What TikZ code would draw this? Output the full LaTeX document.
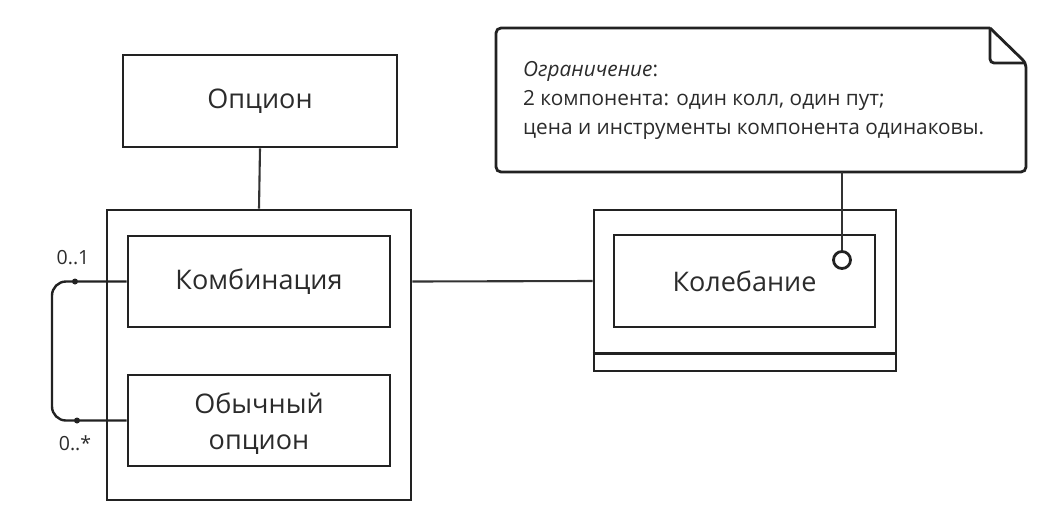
\documentclass[tikz,border=0pt]{standalone}
\usepackage{fontspec}
\setmainfont{Open Sans}
\usetikzlibrary{positioning,calc}
\definecolor{ink}{HTML}{222222}
\definecolor{wire}{HTML}{333333}
\definecolor{txt}{HTML}{2B2B2B}
\tikzset{
  box/.style={draw=ink,line width=2.8pt},
  link/.style={draw=wire,line width=2.1pt},
  big/.style={font=\fontsize{27}{36}\selectfont}
}

\begin{document}
\begin{tikzpicture}[x=1pt,y=-1pt,text=txt]
\useasboundingbox (0,0) rectangle (1052,531);
\node[box,big,minimum width=274pt,minimum height=92pt] (opt) at (260,101) {Опцион};
\node[box,minimum width=304pt,minimum height=290pt] (grp) at (259,355) {};
\node[box,big,minimum width=262pt,minimum height=91pt] (comb) at (259,281.5) {Комбинация};
\node[box,minimum width=262pt,minimum height=91pt] (plain) at (259,420.5) {};
\node[big,align=center] (plaintxt) at (259,424) {Обычный\\опцион};
\node[box,minimum width=302pt,minimum height=161pt] (osc) at (745,290.5) {};
\node[box,big,minimum width=261pt,minimum height=92pt] (inner) at (744.5,281) {Колебание};
\draw[box] ($(osc.south west)+(0,-19)$) -- ($(osc.south east)+(0,-19)$);
\node[box,circle,minimum size=17pt,inner sep=0pt] (pin) at (842,260) {};
% note with folded corner
\node[align=left,anchor=north west,inner sep=0pt,font=\fontsize{20.8}{29}\selectfont] (note) at (523,61) {\textit{Ограничение}:\\2 компонента: один колл, один пут;\\цена и инструменты компонента одинаковы.};
\coordinate (nw) at (496,28);
\coordinate (se) at (1026,172);
\draw[box,rounded corners=5pt] (990,28) -- (nw) -- (496,172) -- (se) -- (1026,63) [sharp corners] -- (990,28);
\draw[box,rounded corners=4pt] (990,28) -- (990,63) -- (1026,63);
\draw[link] (opt.south) -- (grp.north);
\draw[link] (grp.east |- comb.east) -- (inner.west -| osc.west);
\draw[link] (pin.north) -- (pin.north |- se);
% self loop
\coordinate (la) at (75,281.5);
\coordinate (lb) at (77,420.5);
\draw[link,draw=ink,line width=2.4pt,rounded corners=14pt] (comb.west) -- (52,281.5) -- (52,420.5) -- (plain.west);
\fill[ink] (la) circle (3pt) (lb) circle (3pt);
\node[font=\fontsize{19.5}{24}\selectfont] (m1) at (73,258) {0..1};
\node[font=\fontsize{19.5}{24}\selectfont] (m2) at (75,443) {0..*};
\end{tikzpicture}
\end{document}
